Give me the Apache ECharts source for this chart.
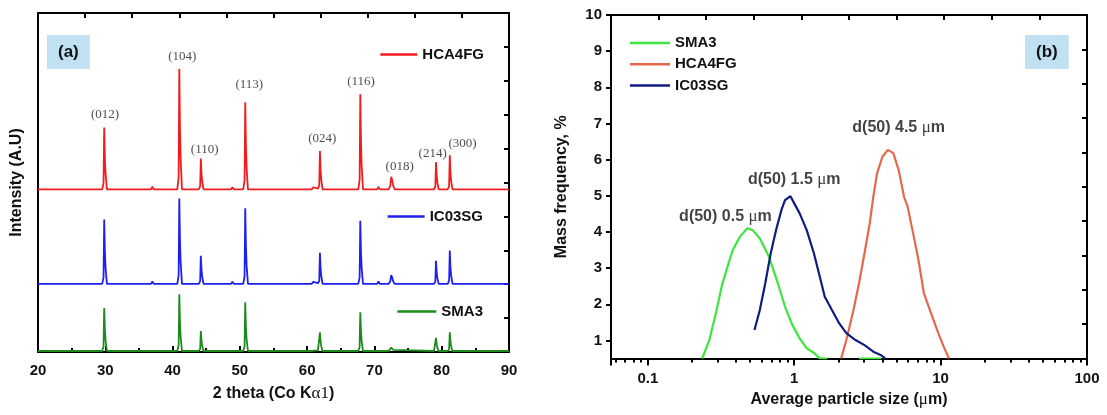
<!DOCTYPE html>
<html>
<head>
<meta charset="utf-8">
<script src="https://cdn.jsdelivr.net/npm/echarts@6/dist/echarts.min.js"></script>
<style>html,body{margin:0;padding:0;background:#fff}#c{width:1107px;height:415px}</style>
</head>
<body>
<div id="c"></div>
<script>
// ---------- Panel (a): XRD patterns (x = 2 theta, y = stacked intensity, A.U) ----------
const xrdHCA4FG = [[20,4.8],[26.7,4.8],[26.9,4.85],[27.1,4.8],
 [29.54,4.8],[29.74,4.98],[29.84,6.62],[29.94,5.71],[30.04,5.26],[30.24,4.8],
 [36.8,4.8],[37.0,4.88],[37.2,4.8],
 [40.7,4.8],[40.9,5.16],[41.0,8.35],[41.1,6.58],[41.2,5.69],[41.4,4.8],
 [43.9,4.8],[44.1,4.89],[44.2,5.71],[44.3,5.26],[44.4,5.03],[44.6,4.8],
 [45.6,4.8],[45.8,4.85],[46.0,4.8],[48.7,4.8],[48.9,4.86],[49.1,4.8],
 [50.5,4.8],[50.7,5.06],[50.8,7.37],[50.9,6.09],[51.0,5.44],[51.2,4.8],
 [54.1,4.8],[54.3,4.84],[54.5,4.8],[55.3,4.8],[55.5,4.83],[55.7,4.8],
 [60.7,4.8],[60.9,4.86],[61.1,4.82],
 [61.6,4.82],[61.8,4.91],[61.9,5.93],[62.0,5.37],[62.1,5.08],[62.3,4.8],
 [67.6,4.8],[67.8,5.08],[67.9,7.6],[68.0,6.2],[68.1,5.5],[68.3,4.8],
 [70.4,4.8],[70.6,4.87],[70.8,4.8],
 [72.1,4.8],[72.35,4.9],[72.5,5.17],[72.65,5.05],[72.8,4.9],[73.0,4.8],
 [78.85,4.8],[79.05,4.88],[79.15,5.6],[79.25,5.2],[79.35,5.0],[79.55,4.8],
 [80.9,4.8],[81.1,4.9],[81.2,5.8],[81.3,5.3],[81.4,5.05],[81.6,4.8],
 [84.1,4.8],[84.3,4.83],[84.5,4.8],[90,4.8]];

const xrdIC03SG = [[20,2.01],[26.7,2.01],[26.9,2.05],[27.1,2.01],
 [29.54,2.01],[29.74,2.2],[29.84,3.91],[29.94,2.96],[30.04,2.49],[30.24,2.01],
 [36.8,2.01],[37.0,2.08],[37.2,2.01],
 [40.7,2.01],[40.9,2.26],[41.0,4.53],[41.1,3.27],[41.2,2.64],[41.4,2.01],
 [43.9,2.01],[44.1,2.09],[44.2,2.84],[44.3,2.43],[44.4,2.22],[44.6,2.01],
 [45.6,2.01],[45.8,2.06],[46.0,2.01],[48.7,2.01],[48.9,2.07],[49.1,2.01],
 [50.5,2.01],[50.7,2.23],[50.8,4.24],[50.9,3.13],[51.0,2.57],[51.2,2.01],
 [54.1,2.01],[54.3,2.05],[54.5,2.01],[55.3,2.01],[55.5,2.04],[55.7,2.01],
 [60.7,2.01],[60.9,2.07],[61.1,2.03],
 [61.6,2.03],[61.8,2.1],[61.9,2.93],[62.0,2.47],[62.1,2.24],[62.3,2.01],
 [67.6,2.01],[67.8,2.2],[67.9,3.87],[68.0,2.94],[68.1,2.48],[68.3,2.01],
 [70.4,2.01],[70.6,2.08],[70.8,2.01],
 [72.1,2.01],[72.35,2.08],[72.5,2.27],[72.65,2.18],[72.8,2.08],[73.0,2.01],
 [78.85,2.01],[79.05,2.08],[79.15,2.69],[79.25,2.35],[79.35,2.18],[79.55,2.01],
 [80.9,2.01],[81.1,2.11],[81.2,2.99],[81.3,2.5],[81.4,2.26],[81.6,2.01],
 [84.1,2.01],[84.3,2.04],[84.5,2.01],[90,2.01]];

const xrdSMA3 = [[20,0.03],[26.7,0.03],[26.9,0.06],[27.1,0.03],
 [29.54,0.03],[29.74,0.16],[29.84,1.3],[29.94,0.67],[30.04,0.35],[30.24,0.03],
 [36.8,0.03],[37.0,0.08],[37.2,0.03],
 [40.7,0.03],[40.9,0.2],[41.0,1.7],[41.1,0.87],[41.2,0.45],[41.4,0.03],
 [43.9,0.03],[44.1,0.09],[44.2,0.62],[44.3,0.33],[44.4,0.18],[44.6,0.03],
 [45.6,0.03],[45.8,0.07],[46.0,0.03],[48.7,0.03],[48.9,0.07],[49.1,0.03],
 [50.5,0.03],[50.7,0.17],[50.8,1.47],[50.9,0.75],[51.0,0.39],[51.2,0.03],
 [54.1,0.03],[54.3,0.06],[54.5,0.03],
 [60.7,0.03],[60.9,0.07],[61.1,0.04],
 [61.6,0.04],[61.8,0.09],[61.9,0.58],[62.0,0.31],[62.1,0.17],[62.3,0.03],
 [67.6,0.03],[67.8,0.14],[67.9,1.17],[68.0,0.6],[68.1,0.32],[68.3,0.03],
 [70.4,0.03],[70.6,0.08],[70.8,0.03],
 [72.1,0.03],[72.35,0.06],[72.5,0.13],[72.65,0.1],[72.8,0.06],[73.0,0.03],
 [78.85,0.03],[79.05,0.07],[79.15,0.42],[79.25,0.23],[79.35,0.13],[79.55,0.03],
 [80.9,0.03],[81.1,0.09],[81.2,0.58],[81.3,0.31],[81.4,0.17],[81.6,0.03],
 [90,0.03]];

const peakLabels = ['(012)','(104)','(110)','(113)','(024)','(116)','(018)','(214)','(300)'];
const peakLabelX = [29.96, 41.44, 44.77, 51.41, 62.24, 68.02, 73.75, 78.66, 83.1];
const peakLabelY = [6.99, 8.71, 5.96, 7.88, 6.30, 7.97, 5.47, 5.86, 6.14];

// ---------- Panel (b): particle size distributions (x = size um, y = mass frequency %) ----------
const psdSMA3 = [[0.235,0.5],[0.263,1.01],[0.295,1.84],[0.321,2.53],[0.35,3.04],[0.38,3.5],
 [0.426,3.87],[0.478,4.1],[0.52,4.05],[0.582,3.82],[0.671,3.32],[0.773,2.58],[0.865,1.93],
 [0.97,1.43],[1.087,1.06],[1.217,0.78],[1.362,0.66],[1.485,0.51],[1.68,0.5]];
const psdSMA3Tail = [[2.77,0.5],[3.92,0.5]];
const psdHCA4FG = [[2.09,0.5],[2.27,1.01],[2.54,1.84],[2.77,2.58],[3.02,3.41],[3.28,4.24],
 [3.47,4.98],[3.68,5.62],[4.0,6.08],[4.36,6.27],[4.75,6.18],[5.17,5.71],[5.62,4.98],
 [5.95,4.7],[6.49,3.96],[7.06,3.22],[7.69,2.3],[8.61,1.75],[9.64,1.2],[10.5,0.83],[11.4,0.5]];
const psdIC03SG = [[0.535,1.29],[0.582,1.84],[0.634,2.58],[0.691,3.41],[0.751,4.05],[0.818,4.61],
 [0.865,4.88],[0.942,4.99],[1.0,4.79],[1.087,4.52],[1.217,4.05],[1.362,3.41],[1.485,2.81],
 [1.616,2.21],[1.81,1.84],[2.03,1.47],[2.27,1.2],[2.62,1.01],[3.02,0.87],[3.47,0.69],
 [3.89,0.6],[4.19,0.5]];

const d50Labels = ['d(50) 0.5 {u|μ}m', 'd(50) 1.5 {u|μ}m', 'd(50) 4.5 {u|μ}m'];
const d50X = [0.339, 1.0, 5.17];
const d50Y = [4.42, 5.44, 6.88];

const psdYTicks = [1,2,3,4,5,6,7,8,9,10];
const psdMinorTicks = [0.06,0.07,0.08,0.09,0.2,0.3,0.4,0.5,0.6,0.7,0.8,0.9,
  2,3,4,5,6,7,8,9,20,30,40,50,60,70,80,90];
const psdXMin = 0.056, psdXMax = 100;

// ---------- styling ----------
const FONT = 'Liberation Sans, Arial, sans-serif';
const SERIF = 'Liberation Serif, Times New Roman, serif';
const AX = '#000';
const C = {xrdRed:'#f21c1c', xrdBlue:'#1f1ff0', xrdGreen:'#1e8a1e',
           psdGreen:'#3de63d', psdRed:'#e5684c', psdNavy:'#0f1c80'};
const tickFont = {fontFamily:FONT, fontWeight:'bold', fontSize:15, color:'#111'};
const nameFont = {fontFamily:FONT, fontWeight:'bold', fontSize:16, color:'#111',
  rich:{g:{fontFamily:SERIF, fontWeight:'normal', fontSize:17, color:'#111'},
        u:{fontFamily:SERIF, fontWeight:'normal', fontSize:17, color:'#111'}}};
const line2 = {onZero:false, lineStyle:{color:AX, width:2}};
function frameAxis(gi, pos){
  return {gridIndex:gi, type:'value', min:0, max:10, interval:1, position:pos,
    axisLine:line2, axisTick:{inside:true, length:5, lineStyle:{color:AX, width:2}},
    axisLabel:{show:false}, splitLine:{show:false}};
}
const chart = echarts.init(document.getElementById('c'), null, {renderer:'canvas'});
const legendText = {fontFamily:FONT, fontWeight:'bold', fontSize:15, color:'#111', lineHeight:17};
function oneLegend(name, color, right, top, w){
  return {selectedMode:false, right:right, top:top, icon:'rect', itemWidth:w, itemHeight:2.5,
    textStyle:legendText, data:[{name:name, itemStyle:{color:color}}]};
}
chart.setOption({
  animation:false,
  backgroundColor:'#fff',
  title:[
    {text:'(a)', left:47, top:35, padding:[8,11,8,11], backgroundColor:'#bfe1f2',
     textStyle:{fontFamily:FONT, fontWeight:'bold', fontSize:17, color:'#111', lineHeight:18}},
    {text:'(b)', left:1025, top:35, padding:[8,11,8,11], backgroundColor:'#bfe1f2',
     textStyle:{fontFamily:FONT, fontWeight:'bold', fontSize:17, color:'#111', lineHeight:18}}
  ],
  legend:[
    oneLegend('HCA4FG', C.xrdRed, 618, 41, 37),
    oneLegend('IC03SG', C.xrdBlue, 619, 203, 37),
    oneLegend('SMA3', C.xrdGreen, 619, 298, 39),
    {selectedMode:false, orient:'vertical', left:625, top:29.5, icon:'rect', itemWidth:40,
     itemHeight:2.5, itemGap:4.3, textStyle:legendText,
     data:[{name:'SMA3', itemStyle:{color:C.psdGreen}},
           {name:'HCA4FG', itemStyle:{color:C.psdRed}},
           {name:'IC03SG', itemStyle:{color:C.psdNavy}}]}
  ],
  grid:[
    {left:38, top:13, width:471, height:339, outerBoundsMode:'none'},
    {left:611, top:15, width:476, height:343.5, outerBoundsMode:'none'}
  ],
  xAxis:[
    {gridIndex:0, type:'value', min:20, max:90, interval:10, position:'bottom',
     axisLine:line2, axisTick:{inside:true, length:6, lineStyle:{color:AX, width:2}},
     minorTick:{show:true, splitNumber:2, length:4, lineStyle:{color:AX, width:2}},
     axisLabel:Object.assign({margin:11}, tickFont), splitLine:{show:false},
     name:'2 theta (Co K{g|α1})', nameLocation:'middle', nameGap:33, nameTextStyle:nameFont},
    frameAxis(0,'top'),
    {gridIndex:1, type:'log', logBase:10, min:psdXMin, max:psdXMax, position:'bottom',
     axisLine:line2, axisTick:{inside:false, length:7, lineStyle:{color:AX, width:2}},
     axisLabel:Object.assign({margin:13, formatter:function(v){
        const l = Math.log10(v); const r = Math.round(l);
        if (Math.abs(l - r) > 1e-6) return '';
        return r < 0 ? Number(Math.pow(10, r).toFixed(-r)).toString() : String(Math.pow(10, r));
     }}, tickFont), splitLine:{show:false},
     name:'Average particle size ({u|μ}m)', nameLocation:'middle', nameGap:31, nameTextStyle:nameFont},
    {gridIndex:1, type:'value', min:Math.log10(psdXMin), max:Math.log10(psdXMax), position:'bottom',
     axisLine:{show:false, onZero:false},
     axisTick:{show:true, inside:false, length:4, customValues:psdMinorTicks.map(Math.log10),
               lineStyle:{color:AX, width:2}},
     axisLabel:{show:false}, splitLine:{show:false}},
    frameAxis(1,'top')
  ],
  yAxis:[
    {gridIndex:0, type:'value', min:0, max:10, position:'left', axisLine:line2,
     axisTick:{show:false}, axisLabel:{show:false}, splitLine:{show:false},
     name:'Intensity (A.U)', nameLocation:'middle', nameGap:13, nameTextStyle:nameFont},
    frameAxis(0,'right'),
    {gridIndex:1, type:'value', min:0.5, max:10, position:'left', axisLine:line2,
     axisTick:{show:true, inside:false, length:5, customValues:psdYTicks, lineStyle:{color:AX, width:2}},
     axisLabel:Object.assign({margin:9, customValues:psdYTicks}, tickFont), splitLine:{show:false},
     name:'Mass frequency, %', nameLocation:'middle', nameGap:41, nameTextStyle:nameFont},
    frameAxis(1,'right')
  ],
  series:[
    {name:'HCA4FG', type:'line', xAxisIndex:0, yAxisIndex:0, data:xrdHCA4FG, showSymbol:false,
     lineStyle:{color:C.xrdRed, width:1.8}, itemStyle:{color:C.xrdRed}},
    {name:'IC03SG', type:'line', xAxisIndex:0, yAxisIndex:0, data:xrdIC03SG, showSymbol:false,
     lineStyle:{color:C.xrdBlue, width:1.8}, itemStyle:{color:C.xrdBlue}},
    {name:'SMA3', type:'line', xAxisIndex:0, yAxisIndex:0, data:xrdSMA3, showSymbol:false,
     lineStyle:{color:C.xrdGreen, width:1.8}, itemStyle:{color:C.xrdGreen}},
    {type:'scatter', xAxisIndex:0, yAxisIndex:0, symbolSize:0, silent:true,
     data:peakLabels.map((t,i)=>({name:t, value:[peakLabelX[i], peakLabelY[i]]})),
     label:{show:true, position:'inside', formatter:'{b}', fontFamily:SERIF, fontSize:13, color:'#222'}},
    {name:'SMA3', type:'line', xAxisIndex:2, yAxisIndex:2, data:psdSMA3, showSymbol:false,
     lineStyle:{color:C.psdGreen, width:2.2}, itemStyle:{color:C.psdGreen}},
    {name:'SMA3', type:'line', xAxisIndex:2, yAxisIndex:2, data:psdSMA3Tail, showSymbol:false,
     lineStyle:{color:C.psdGreen, width:2.2}, itemStyle:{color:C.psdGreen}},
    {name:'HCA4FG', type:'line', xAxisIndex:2, yAxisIndex:2, data:psdHCA4FG, showSymbol:false,
     lineStyle:{color:C.psdRed, width:2.2}, itemStyle:{color:C.psdRed}},
    {name:'IC03SG', type:'line', xAxisIndex:2, yAxisIndex:2, data:psdIC03SG, showSymbol:false,
     lineStyle:{color:C.psdNavy, width:2.2}, itemStyle:{color:C.psdNavy}},
    {type:'scatter', xAxisIndex:2, yAxisIndex:2, symbolSize:0, silent:true,
     data:d50Labels.map((t,i)=>({name:t, value:[d50X[i], d50Y[i]]})),
     label:{show:true, position:'inside', formatter:'{b}', fontFamily:FONT, fontWeight:'bold',
            fontSize:16, color:'#111',
            rich:{u:{fontFamily:SERIF, fontWeight:'normal', fontSize:17, color:'#111'}}}}
  ]
});
</script>
</body>
</html>
